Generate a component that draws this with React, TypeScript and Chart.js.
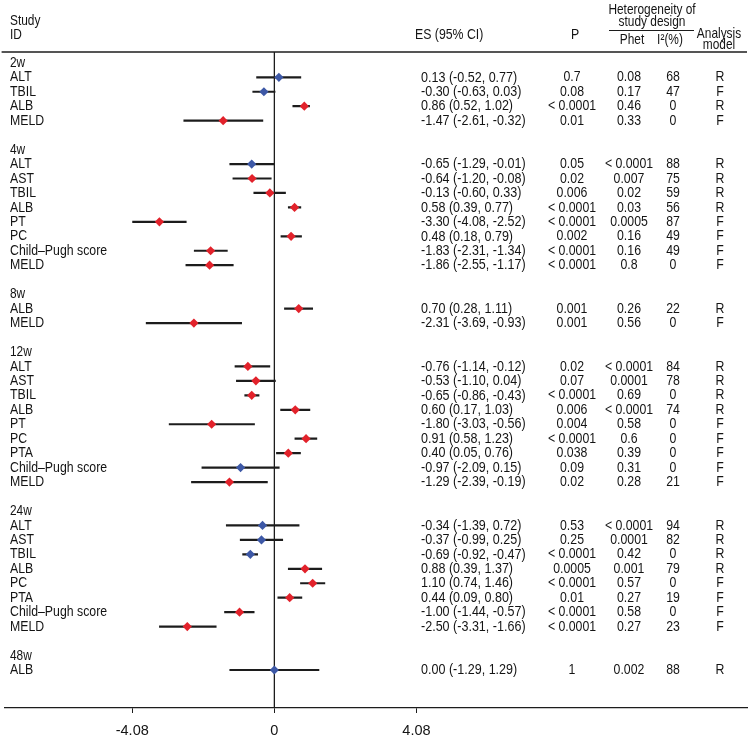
import React, { useEffect, useRef } from 'react';
import { Chart, registerables } from 'chart.js';

Chart.register(...registerables);

// ---------- data ----------
const groups = ['2w', '4w', '8w', '12w', '24w', '48w'];
const studyGroup = [0, 0, 0, 0, 1, 1, 1, 1, 1, 1, 1, 1, 2, 2, 3, 3, 3, 3, 3, 3, 3, 3, 3, 4, 4, 4, 4, 4, 4, 4, 4, 5];
const studyLabels = [
  'ALT', 'TBIL', 'ALB', 'MELD',
  'ALT', 'AST', 'TBIL', 'ALB', 'PT', 'PC', 'Child\u2013Pugh score', 'MELD',
  'ALB', 'MELD',
  'ALT', 'AST', 'TBIL', 'ALB', 'PT', 'PC', 'PTA', 'Child\u2013Pugh score', 'MELD',
  'ALT', 'AST', 'TBIL', 'ALB', 'PC', 'PTA', 'Child\u2013Pugh score', 'MELD',
  'ALB',
];
const es = [0.13, -0.30, 0.86, -1.47, -0.65, -0.64, -0.13, 0.58, -3.30, 0.48, -1.83, -1.86, 0.70, -2.31, -0.76, -0.53, -0.65, 0.60, -1.80, 0.91, 0.40, -0.97, -1.29, -0.34, -0.37, -0.69, 0.88, 1.10, 0.44, -1.00, -2.50, 0.00];
const ciLow = [-0.52, -0.63, 0.52, -2.61, -1.29, -1.20, -0.60, 0.39, -4.08, 0.18, -2.31, -2.55, 0.28, -3.69, -1.14, -1.10, -0.86, 0.17, -3.03, 0.58, 0.05, -2.09, -2.39, -1.39, -0.99, -0.92, 0.39, 0.74, 0.09, -1.44, -3.31, -1.29];
const ciHigh = [0.77, 0.03, 1.02, -0.32, -0.01, -0.08, 0.33, 0.77, -2.52, 0.79, -1.34, -1.17, 1.11, -0.93, -0.12, 0.04, -0.43, 1.03, -0.56, 1.23, 0.76, 0.15, -0.19, 0.72, 0.25, -0.47, 1.37, 1.46, 0.80, -0.57, -1.66, 1.29];
const pValues = ['0.7', '0.08', '< 0.0001', '0.01', '0.05', '0.02', '0.006', '< 0.0001', '< 0.0001', '0.002', '< 0.0001', '< 0.0001', '0.001', '0.001', '0.02', '0.07', '< 0.0001', '0.006', '0.004', '< 0.0001', '0.038', '0.09', '0.02', '0.53', '0.25', '< 0.0001', '0.0005', '< 0.0001', '0.01', '< 0.0001', '< 0.0001', '1'];
const pHet = ['0.08', '0.17', '0.46', '0.33', '< 0.0001', '0.007', '0.02', '0.03', '0.0005', '0.16', '0.16', '0.8', '0.26', '0.56', '< 0.0001', '0.0001', '0.69', '< 0.0001', '0.58', '0.6', '0.39', '0.31', '0.28', '< 0.0001', '0.0001', '0.42', '0.001', '0.57', '0.27', '0.58', '0.27', '0.002'];
const iSquared = [68, 47, 0, 0, 88, 75, 59, 56, 87, 49, 49, 0, 22, 0, 84, 78, 0, 74, 0, 0, 0, 0, 21, 94, 82, 0, 79, 0, 19, 0, 23, 88];
const models = ['R', 'F', 'R', 'F', 'R', 'R', 'R', 'R', 'F', 'F', 'F', 'F', 'R', 'F', 'R', 'R', 'R', 'R', 'F', 'F', 'F', 'F', 'F', 'R', 'R', 'R', 'R', 'F', 'F', 'F', 'F', 'R'];
const markerTone = ['blue', 'blue', 'red', 'red', 'blue', 'red', 'red', 'red', 'red', 'red', 'red', 'red', 'red', 'red', 'red', 'red', 'red', 'red', 'red', 'red', 'red', 'blue', 'red', 'blue', 'blue', 'blue', 'red', 'red', 'red', 'red', 'red', 'blue'];
const xTickLabels = ['-4.08', '0', '4.08'];

// ---------- styles ----------
const TEXT = '#141414';
const LINE = '#1c1c1c';
const TONES: Record<string, string> = { red: '#e2222b', blue: '#3d58a6' };
const NARROW = '"Liberation Sans Narrow"';

// row layout: group header, studies, blank line between groups
const groupRow: number[] = [];
const studyRow: number[] = [];
(() => {
  let r = 0;
  groups.forEach((_, gi) => {
    if (gi > 0) r++;
    groupRow[gi] = r++;
    studyGroup.forEach((g, si) => {
      if (g === gi) studyRow[si] = r++;
    });
  });
})();

function makeTextDrawer(ctx: CanvasRenderingContext2D) {
  ctx.save();
  ctx.font = `100px ${NARROW}, monospace`;
  const a = ctx.measureText('Heterogeneity 0123').width;
  ctx.font = '100px monospace';
  const b = ctx.measureText('Heterogeneity 0123').width;
  ctx.restore();
  const hasNarrow = Math.abs(a - b) > 1;
  return (text: string, x: number, y: number, align: CanvasTextAlign, size: number) => {
    ctx.save();
    ctx.fillStyle = TEXT;
    ctx.textBaseline = 'middle';
    ctx.textAlign = align;
    if (hasNarrow) {
      ctx.font = `${size}px ${NARROW}`;
      ctx.fillText(text, x, y);
    } else {
      ctx.font = `${size}px "Liberation Sans", Arial, sans-serif`;
      ctx.translate(x, y);
      ctx.scale(0.82, 1);
      ctx.fillText(text, 0, 0);
    }
    ctx.restore();
  };
}

const forestPlugin = {
  id: 'forestText',
  beforeDatasetsDraw(chart: any) {
    const { ctx, chartArea, scales } = chart;
    const x0 = scales.x.getPixelForValue(0);
    ctx.save();
    ctx.strokeStyle = LINE;
    ctx.lineWidth = 1.3;
    ctx.beginPath();
    ctx.moveTo(x0, chartArea.top);
    ctx.lineTo(x0, chartArea.bottom);
    ctx.stroke();
    ctx.beginPath();
    ctx.moveTo(chartArea.left - 3, chartArea.top);
    ctx.lineTo(chartArea.right, chartArea.top);
    ctx.stroke();
    ctx.restore();
  },
  afterDraw(chart: any) {
    const { ctx, scales } = chart;
    const y = scales.y;
    const draw = makeTextDrawer(ctx);
    // headers
    draw('Study', 10, 21, 'left', 14.5);
    draw('ID', 10, 35, 'left', 14.5);
    draw('ES (95% CI)', 415, 35, 'left', 15);
    draw('P', 575, 35, 'center', 15);
    draw('Heterogeneity of', 652, 10, 'center', 14.5);
    draw('study design', 652, 22, 'center', 14.5);
    draw('Phet', 632, 40, 'center', 14.5);
    draw('I\u00b2(%)', 670, 40, 'center', 14.5);
    draw('Analysis', 719, 34, 'center', 14.5);
    draw('model', 719, 45, 'center', 14.5);
    ctx.save();
    ctx.strokeStyle = LINE;
    ctx.lineWidth = 1;
    ctx.beginPath();
    ctx.moveTo(609, 30.5);
    ctx.lineTo(694, 30.5);
    ctx.stroke();
    ctx.restore();
    // group headers
    groups.forEach((g, gi) => draw(g, 10, y.getPixelForValue(groupRow[gi]), 'left', 14.5));
    // study rows
    studyLabels.forEach((lab, i) => {
      const py = y.getPixelForValue(studyRow[i]);
      draw(lab, 10, py, 'left', 15);
      draw(`${es[i].toFixed(2)} (${ciLow[i].toFixed(2)}, ${ciHigh[i].toFixed(2)})`, 421, py, 'left', 15.3);
      draw(pValues[i], 572, py, 'center', 15);
      draw(pHet[i], 629, py, 'center', 15);
      draw(String(iSquared[i]), 673, py, 'center', 15);
      draw(models[i], 720, py, 'center', 15);
    });
  },
};

export default function App() {
  const ref = useRef<HTMLCanvasElement | null>(null);
  useEffect(() => {
    document.body.style.margin = '0';
    const canvas = ref.current;
    if (!canvas) return;
    const datasets: any[] = studyLabels.map((_, i) => ({
      type: 'line',
      data: [
        { x: ciLow[i], y: studyRow[i] },
        { x: ciHigh[i], y: studyRow[i] },
      ],
      borderColor: LINE,
      borderWidth: 2.2,
      pointRadius: 0,
      showLine: true,
      order: 2,
    }));
    datasets.push({
      type: 'scatter',
      data: es.map((v, i) => ({ x: v, y: studyRow[i] })),
      pointStyle: 'rectRot',
      pointRadius: 4.6,
      pointBackgroundColor: markerTone.map((t) => TONES[t]),
      pointBorderWidth: 0,
      borderWidth: 0,
      order: 1,
    });
    const chart = new Chart(canvas, {
      type: 'scatter',
      data: { datasets },
      options: {
        responsive: false,
        animation: false,
        devicePixelRatio: 1,
        layout: { padding: { left: 3, right: 5, top: 52, bottom: 0 } },
        plugins: { legend: { display: false }, tooltip: { enabled: false } },
        scales: {
          x: {
            type: 'linear',
            min: -7.745,
            max: 13.57,
            afterBuildTicks: (s: any) => {
              s.ticks = xTickLabels.map((t) => ({ value: parseFloat(t) }));
            },
            afterFit: (s: any) => {
              s.height = 31;
            },
            ticks: {
              autoSkip: false,
              maxRotation: 0,
              padding: 9,
              color: TEXT,
              font: { size: 14.5, family: 'Liberation Sans Narrow, Liberation Sans, Arial, sans-serif' },
              callback: (v: any) => xTickLabels.find((t) => parseFloat(t) === Number(v)) ?? String(v),
            },
            grid: { drawOnChartArea: false, drawTicks: true, tickLength: 5, color: LINE },
            border: { display: true, color: LINE, width: 1.3 },
          },
          y: { type: 'linear', display: false, min: -0.75, max: 44.63, reverse: true },
        },
      },
      plugins: [forestPlugin],
    } as any);
    return () => chart.destroy();
  }, []);
  return <canvas ref={ref} width={752} height={739} style={{ display: 'block' }} />;
}
